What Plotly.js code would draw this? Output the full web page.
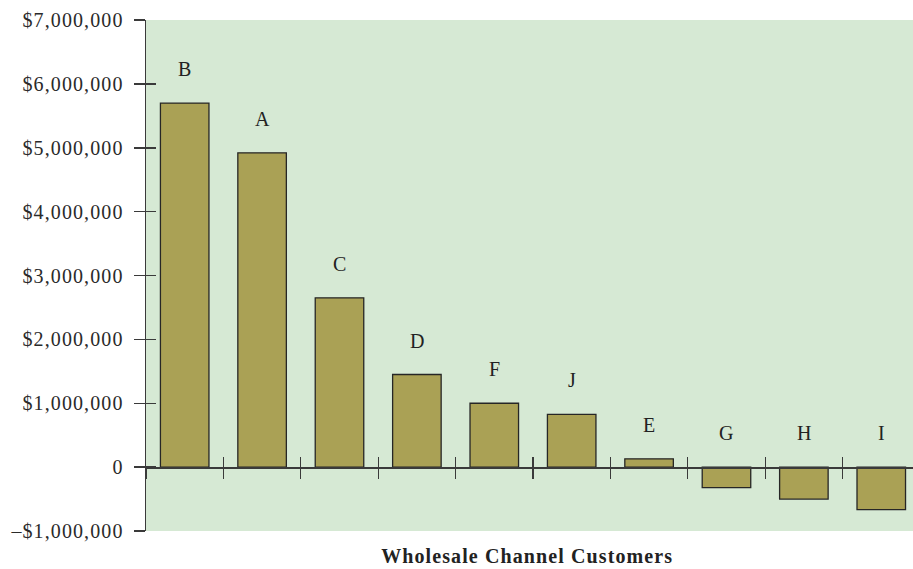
<!DOCTYPE html>
<html>
<head>
<meta charset="utf-8">
<script src="https://cdn.plot.ly/plotly-3.0.1.min.js"></script>
<style>
html,body{margin:0;padding:0;background:#fff;}
#chart{width:913px;height:569px;}
#chart .ytick text{letter-spacing:1.1px;}
#chart .annotation[data-index="10"] .annotation-text{letter-spacing:1.1px;}
</style>
</head>
<body>
<div id="chart"></div>
<script>
const categories = ['B', 'A', 'C', 'D', 'F', 'J', 'E', 'G', 'H', 'I'];
const profits = [5700000, 4920000, 2650000, 1450000, 1000000, 825000, 130000, -320000, -500000, -665000];
const yTickVals = [-1000000, 0, 1000000, 2000000, 3000000, 4000000, 5000000, 6000000, 7000000];
const yTickText = ['\u2013$1,000,000', '0', '$1,000,000', '$2,000,000', '$3,000,000', '$4,000,000', '$5,000,000', '$6,000,000', '$7,000,000'];
const xTitle = 'Wholesale Channel Customers';

const serif = 'Liberation Serif, Times New Roman, serif';
const axisColor = '#3a3a3a';
const boundaries = categories.slice(0, -1).map((_, i) => i + 0.5);
const xRange = [-0.5, 9.41];
const yRange = [-1000000, 7000000];
const zeroPos = (0 - yRange[0]) / (yRange[1] - yRange[0]);

const trace = {
  type: 'bar',
  x: categories.map((_, i) => i),
  y: profits,
  marker: {color: '#aaa155', line: {color: '#262626', width: 1.3}},
  hoverinfo: 'skip'
};
// empty helper traces so the overlay axes (inner tick halves) are drawn
const helperX = {type: 'scatter', x: [], y: [], xaxis: 'x2', yaxis: 'y', hoverinfo: 'skip', showlegend: false};
const helperY = {type: 'scatter', x: [], y: [], xaxis: 'x', yaxis: 'y2', hoverinfo: 'skip', showlegend: false};

const annotations = categories.map((c, i) => ({
  x: i, y: Math.max(profits[i], 0), xref: 'x', yref: 'y',
  text: c, showarrow: false, yshift: 34, yanchor: 'middle',
  font: {family: serif, size: 20, color: '#222'}
}));
annotations.push({
  xref: 'paper', yref: 'paper', x: 0.497, y: -0.049,
  text: '<b>' + xTitle + '</b>', showarrow: false,
  xanchor: 'center', yanchor: 'middle',
  font: {family: serif, size: 20, color: '#222'}
});

const layout = {
  width: 913, height: 569,
  margin: {l: 146, r: 0, t: 20, b: 38, pad: 0},
  paper_bgcolor: '#ffffff',
  plot_bgcolor: '#d6e9d4',
  showlegend: false,
  bargap: 0.373,
  xaxis: {
    range: xRange, anchor: 'free', position: zeroPos,
    showgrid: false, zeroline: false, showline: true, linecolor: axisColor, linewidth: 1.5,
    tickmode: 'array', tickvals: [-0.5].concat(boundaries), ticks: 'outside', ticklen: 10, tickwidth: 1.3, tickcolor: axisColor,
    showticklabels: false, fixedrange: true
  },
  xaxis2: {
    range: xRange, overlaying: 'x', anchor: 'free', position: zeroPos,
    showgrid: false, zeroline: false, showline: false,
    tickmode: 'array', tickvals: [-0.5].concat(boundaries), ticks: 'inside', ticklen: 10, tickwidth: 1.3, tickcolor: axisColor,
    showticklabels: false
  },
  yaxis: {
    range: yRange, showgrid: false, zeroline: false,
    showline: true, linecolor: axisColor, linewidth: 1.5,
    tickmode: 'array', tickvals: yTickVals, ticktext: yTickText,
    ticks: 'outside', ticklen: 11, tickwidth: 1.5, tickcolor: axisColor,
    ticklabelstandoff: 6,
    tickfont: {family: serif, size: 20, color: '#2a2a2a'}
  },
  yaxis2: {
    range: yRange, overlaying: 'y', anchor: 'x', side: 'left', showgrid: false, zeroline: false, showline: false,
    tickmode: 'array', tickvals: yTickVals, ticks: 'inside', ticklen: 10, tickwidth: 1.5, tickcolor: axisColor,
    showticklabels: false
  },
  annotations: annotations
};

Plotly.newPlot('chart', [trace, helperX, helperY], layout, {displayModeBar: false, staticPlot: true});
</script>
</body>
</html>
